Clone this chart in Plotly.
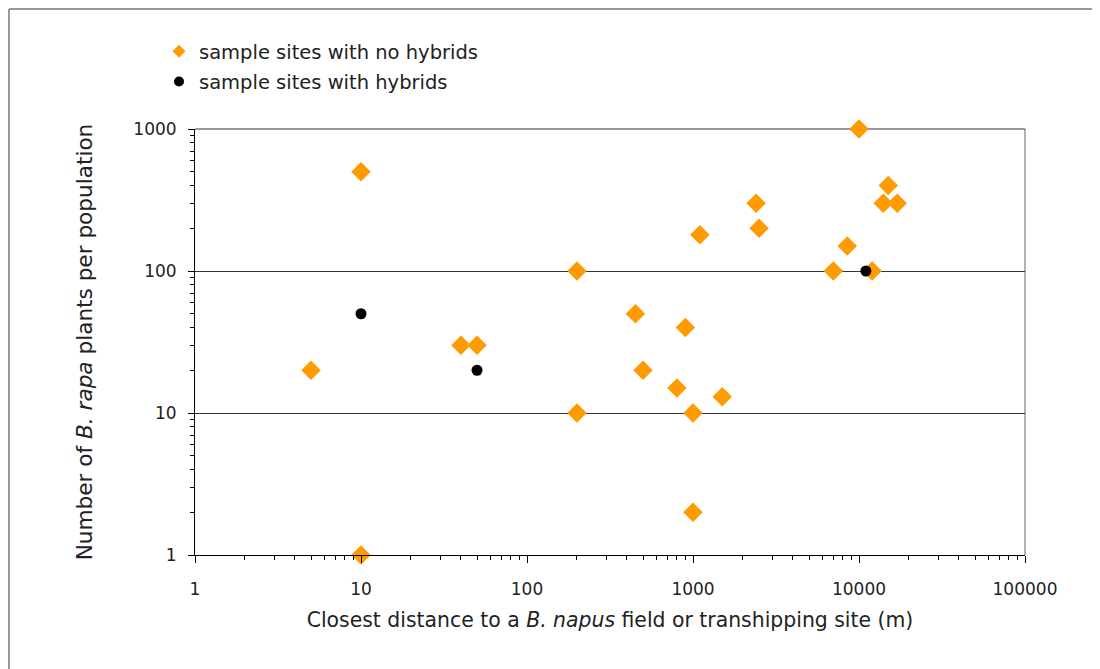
import plotly.graph_objects as go

# Orange diamonds: sample sites with no hybrids
no_hyb_dist = [5, 10, 10, 40, 50, 200, 200, 450, 500, 800, 900, 1000, 1000, 1100,
               1500, 2400, 2500, 7000, 8500, 10000, 12000, 14000, 15000, 17000]
no_hyb_pop = [20, 500, 1, 30, 30, 100, 10, 50, 20, 15, 40, 10, 2, 180,
              13, 300, 200, 100, 150, 1000, 100, 300, 400, 300]

# Black circles: sample sites with hybrids
hyb_dist = [10, 50, 11000]
hyb_pop = [50, 20, 100]

x_tickvals = [1, 10, 100, 1000, 10000, 100000]
x_ticktext = ["1", "10", "100", "1000", "10000", "100000"]
y_tickvals = [1, 10, 100, 1000]
y_ticktext = ["1", "10", "100", "1000"]

FONT = "DejaVu Sans"
TXT = "#222222"
ORANGE = "#FF9A00"

fig = go.Figure()
fig.add_trace(go.Scatter(
    x=no_hyb_dist, y=no_hyb_pop, mode="markers", showlegend=False,
    cliponaxis=False,
    marker=dict(symbol="diamond", size=15, color=ORANGE, line=dict(width=0)),
))
fig.add_trace(go.Scatter(
    x=hyb_dist, y=hyb_pop, mode="markers", showlegend=False,
    cliponaxis=False,
    marker=dict(symbol="circle", size=11, color="black", line=dict(width=0)),
))
# legend entries with smaller symbols
fig.add_trace(go.Scatter(
    x=[None], y=[None], mode="markers", name="sample sites with no hybrids",
    legendgroup="a",
    marker=dict(symbol="diamond", size=10, color=ORANGE, line=dict(width=0)),
))
fig.add_trace(go.Scatter(
    x=[None], y=[None], mode="markers", name="sample sites with hybrids",
    legendgroup="b",
    marker=dict(symbol="circle", size=10, color="black", line=dict(width=0)),
))

OFF = 8  # page body margin
W, H = 1100 - OFF, 669 - OFF
L, R, T, B = 195 - OFF, 1025 - OFF, 129 - OFF, 555 - OFF


def px_x(p):
    return (p - OFF - L) / (R - L)


def px_y(p):
    return (B - (p - OFF)) / (B - T)


fig.update_layout(
    width=W, height=H,
    margin=dict(l=L, r=W - R, t=T, b=H - B),
    paper_bgcolor="white", plot_bgcolor="white",
    font=dict(family=FONT, color=TXT, size=16),
    showlegend=True,
    legend=dict(
        x=px_x(159), y=px_y(32), xanchor="left", yanchor="top",
        font=dict(size=19.5, color=TXT, family=FONT),
        bgcolor="rgba(0,0,0,0)", itemsizing="trace",
        itemwidth=30, tracegroupgap=2,
    ),
    xaxis=dict(
        type="log", range=[0, 5],
        tickvals=x_tickvals, ticktext=x_ticktext,
        ticks="outside", ticklen=7, tickcolor="black", tickwidth=1,
        ticklabelstandoff=12,
        showline=True, linecolor="black", linewidth=1,
        showgrid=False, zeroline=False,
        minor=dict(ticks="outside", ticklen=4, tickcolor="black",
                   dtick="D1", showgrid=False),
        title=dict(text="Closest distance to a <i>B. napus</i> field or transhipping site (m)",
                   font=dict(size=20.4, color=TXT), standoff=14),
        tickfont=dict(size=17, color=TXT),
    ),
    yaxis=dict(
        type="log", range=[0, 3],
        tickvals=y_tickvals, ticktext=y_ticktext,
        ticks="outside", ticklen=6, tickcolor="black", tickwidth=1,
        ticklabelstandoff=8,
        showline=True, linecolor="black", linewidth=1,
        showgrid=True, gridcolor="#333333", gridwidth=1,
        zeroline=False,
        minor=dict(ticks="outside", ticklen=4, tickcolor="black",
                   dtick="D1", showgrid=False),
        title=dict(text="Number of <i>B. rapa</i> plants per population",
                   font=dict(size=21.6, color=TXT), standoff=34),
        tickfont=dict(size=17, color=TXT),
    ),
    shapes=[
        # right border of plot area
        dict(type="line", xref="paper", yref="paper", x0=1, x1=1, y0=0, y1=1,
             line=dict(color="#999999", width=1.5), layer="below"),
        # top line at 1000
        dict(type="line", xref="paper", yref="paper", x0=0, x1=1, y0=1, y1=1,
             line=dict(color="#333333", width=1), layer="below"),
        # outer frame (left and top visible)
        dict(type="line", xref="paper", yref="paper",
             x0=px_x(9), x1=px_x(9), y0=px_y(669), y1=px_y(9),
             line=dict(color="#999999", width=2)),
        dict(type="line", xref="paper", yref="paper",
             x0=px_x(9), x1=px_x(1100), y0=px_y(9), y1=px_y(9),
             line=dict(color="#999999", width=2)),
    ],
)

fig.write_html("out.html")
